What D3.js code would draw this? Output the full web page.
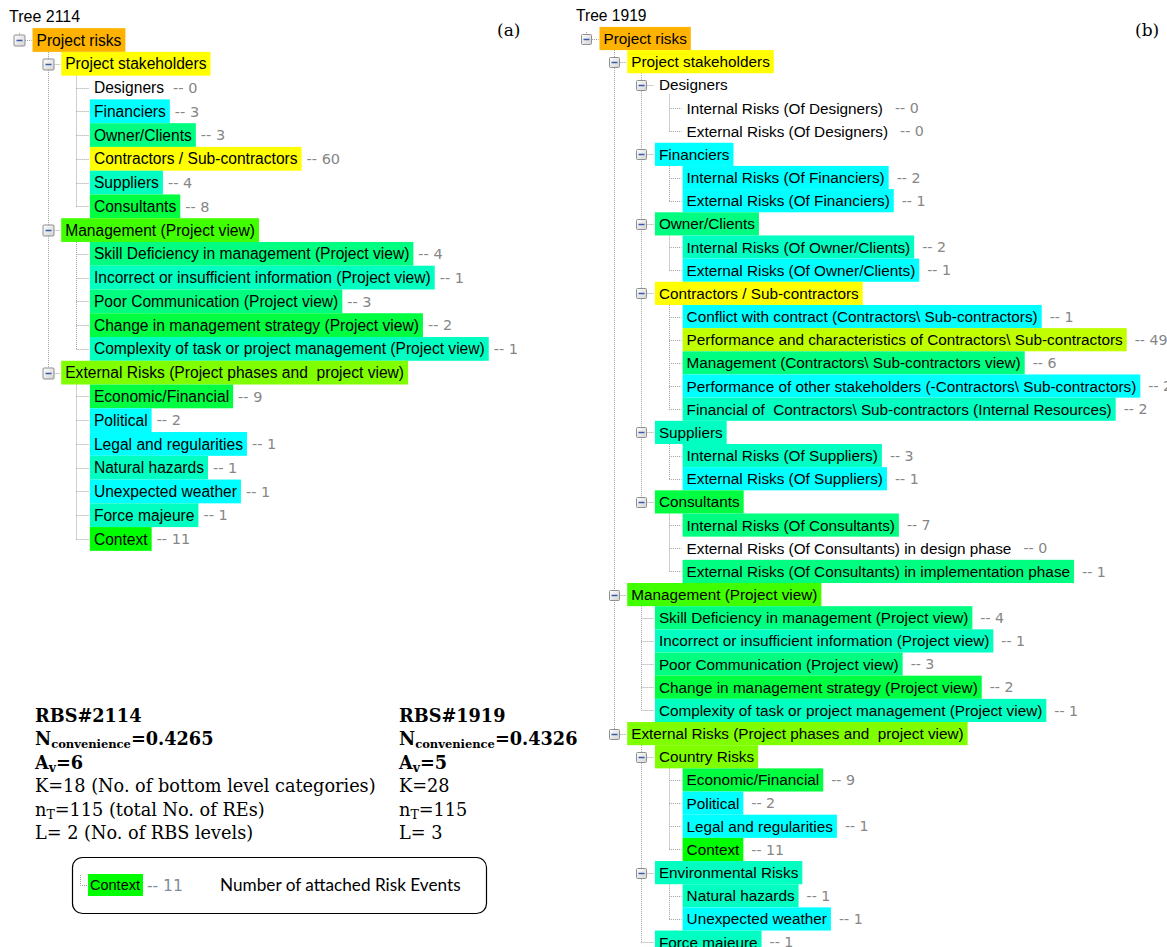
<!DOCTYPE html>
<html><head><meta charset="utf-8">
<script src="https://cdn.jsdelivr.net/npm/d3@7"></script>
<style>
body{margin:0;background:#fff;}
svg{display:block;}
text{white-space:pre;}
</style></head><body>
<svg id="chart" width="1167" height="947"></svg>
<script>
// ---------- Tree (a) : RBS 2114 ----------
const treeA_title = "Tree 2114";
const treeA_names = [
  "Project risks",
  "Project stakeholders",
  "Designers","Financiers","Owner/Clients","Contractors / Sub-contractors","Suppliers","Consultants",
  "Management (Project view)",
  "Skill Deficiency in management (Project view)",
  "Incorrect or insufficient information (Project view)",
  "Poor Communication (Project view)",
  "Change in management strategy (Project view)",
  "Complexity of task or project management (Project view)",
  "External Risks (Project phases and  project view)",
  "Economic/Financial","Political","Legal and regularities","Natural hazards","Unexpected weather","Force majeure","Context"
];
const treeA_parents = [-1,0,1,1,1,1,1,1,0,8,8,8,8,8,0,14,14,14,14,14,14,14];
const treeA_counts  = [null,null,0,3,3,60,4,8,null,4,1,3,2,1,null,9,2,1,1,1,1,11];
const treeA_tones   = ["orange","yellow","none","cyan","spring","yellow","aqua","green",
  "lime","spring","aqua","spring","green","aqua",
  "chartreuse","green","cyan","cyan","aqua","cyan","aqua","pure"];

// ---------- Tree (b) : RBS 1919 ----------
const treeB_title = "Tree 1919";
const treeB_names = [
  "Project risks",
  "Project stakeholders",
  "Designers","Internal Risks (Of Designers)","External Risks (Of Designers)",
  "Financiers","Internal Risks (Of Financiers)","External Risks (Of Financiers)",
  "Owner/Clients","Internal Risks (Of Owner/Clients)","External Risks (Of Owner/Clients)",
  "Contractors / Sub-contractors",
  "Conflict with contract (Contractors\\ Sub-contractors)",
  "Performance and characteristics of Contractors\\ Sub-contractors",
  "Management (Contractors\\ Sub-contractors view)",
  "Performance of other stakeholders (-Contractors\\ Sub-contractors)",
  "Financial of  Contractors\\ Sub-contractors (Internal Resources)",
  "Suppliers","Internal Risks (Of Suppliers)","External Risks (Of Suppliers)",
  "Consultants","Internal Risks (Of Consultants)",
  "External Risks (Of Consultants) in design phase",
  "External Risks (Of Consultants) in implementation phase",
  "Management (Project view)",
  "Skill Deficiency in management (Project view)",
  "Incorrect or insufficient information (Project view)",
  "Poor Communication (Project view)",
  "Change in management strategy (Project view)",
  "Complexity of task or project management (Project view)",
  "External Risks (Project phases and  project view)",
  "Country Risks","Economic/Financial","Political","Legal and regularities","Context",
  "Environmental Risks","Natural hazards","Unexpected weather",
  "Force majeure"
];
const treeB_parents = [-1,0,1,2,2,1,5,5,1,8,8,1,11,11,11,11,11,1,17,17,1,20,20,20,
  0,24,24,24,24,24,0,30,31,31,31,31,30,36,36,30];
const treeB_counts = [null,null,null,0,0,null,2,1,null,2,1,null,1,49,6,2,2,null,3,1,null,7,0,1,
  null,4,1,3,2,1,null,null,9,2,1,11,null,1,1,1];
const treeB_tones = ["orange","yellow","none","none","none","cyan","cyan","cyan","spring","aqua","cyan",
  "yellow","cyan","yellowgreen","spring","cyan","aqua","aqua","aqua","cyan","green","spring","none","spring",
  "lime","spring","aqua","spring","green","aqua",
  "chartreuse","chartreuse","green","cyan","cyan","pure","aqua","aqua","cyan","aqua"];

// ---------- Summary statistics ----------
const statsA = [
  {bold:true,  parts:[["RBS#2114",""]]},
  {bold:true,  parts:[["N",""],["convenience","sub"],["=0.4265",""]]},
  {bold:true,  parts:[["A",""],["v","sub"],["=6",""]]},
  {bold:false, parts:[["K=18 (No. of bottom level categories)",""]]},
  {bold:false, parts:[["n",""],["T","sub"],["=115 (total No. of REs)",""]]},
  {bold:false, parts:[["L= 2 (No. of RBS levels)",""]]}
];
const statsB = [
  {bold:true,  parts:[["RBS#1919",""]]},
  {bold:true,  parts:[["N",""],["convenience","sub"],["=0.4326",""]]},
  {bold:true,  parts:[["A",""],["v","sub"],["=5",""]]},
  {bold:false, parts:[["K=28",""]]},
  {bold:false, parts:[["n",""],["T","sub"],["=115",""]]},
  {bold:false, parts:[["L= 3",""]]}
];
const legendSample = {name:"Context", count:11, tone:"pure"};
const legendText = "Number of attached Risk Events";
const panelLabels = ["(a)","(b)"];

// ---------- styles ----------
const toneColor = d3.scaleOrdinal()
  .domain(["orange","yellow","cyan","spring","aqua","green","lime","chartreuse","yellowgreen","pure","none"])
  .range(["#FFB300","#FFFF00","#00FFFF","#00FF80","#00FFC0","#00FF40","#40FF00","#80FF00","#C0FF00","#00FF00","none"]);

const svg = d3.select("#chart");
const TREE_FONT = "'Liberation Sans', Arial, sans-serif";
const COUNT_FONT = "'DejaVu Sans', sans-serif";
const LINE_COL = "#a0a0a0";

function drawTree(cfg, title, names, parents, counts, tones){
  const rows = names.map((n,i)=>({id:String(i), parentId: parents[i] < 0 ? null : String(parents[i]),
    name:n, count:counts[i], tone:tones[i]}));
  const root = d3.stratify()(rows);
  const order = [];
  root.eachBefore(d => order.push(d));
  order.forEach((d,i)=> d.row = i);
  const y = d3.scaleLinear().domain([0,1]).range([cfg.y0, cfg.y0 + cfg.row]);
  const xb = d3.scaleLinear().domain([0,1]).range([cfg.x0, cfg.x0 + cfg.indent]);
  const xt = d => xb(d.depth) + cfg.textOff;
  const g = svg.append("g");

  g.append("text").attr("x", cfg.titleX).attr("y", cfg.titleY)
    .attr("font-family", TREE_FONT).attr("font-size", cfg.titleSize).attr("fill","#000").text(title);

  const lines = g.append("g").attr("stroke", LINE_COL).attr("stroke-dasharray","1,1").attr("fill","none");
  lines.append("line").attr("x1", Math.round(xb(0))+0.5).attr("x2", Math.round(xb(0))+0.5)
    .attr("y1", y(0) - cfg.row/2 + 5).attr("y2", y(0));
  order.forEach(d => {
    const yy = Math.round(y(d.row)) + 0.5;
    lines.append("line").attr("x1", xb(d.depth)).attr("x2", xt(d) - 5)
      .attr("y1", yy).attr("y2", yy);
    if (d.children){
      const last = d.children[d.children.length-1];
      const cx = Math.round(xb(d.depth+1)) + 0.5;
      lines.append("line").attr("x1", cx).attr("x2", cx)
        .attr("y1", y(d.row) + cfg.row/2 - 2).attr("y2", Math.round(y(last.row))+0.5);
    }
  });

  const nodes = g.selectAll("g.node").data(order).join("g").attr("class","node");
  nodes.each(function(d){
    const ng = d3.select(this);
    const rect = ng.append("rect");
    const t = ng.append("text").attr("x", xt(d)).attr("y", y(d.row)).attr("dy","0.36em")
      .attr("font-family", TREE_FONT).attr("font-size", cfg.fontSize).attr("fill","#000").text(d.data.name);
    const w = t.node().getComputedTextLength();
    const fill = toneColor(d.data.tone);
    rect.attr("x", xt(d) - 4).attr("y", y(d.row) - cfg.row/2).attr("width", w + 8).attr("height", cfg.row)
      .attr("fill", fill === "none" ? "none" : fill);
    if (d.data.count !== null){
      ng.append("text").attr("x", xt(d) + w + 4 + cfg.countGap).attr("y", y(d.row)).attr("dy","0.36em")
        .attr("font-family", COUNT_FONT).attr("font-size", cfg.countSize).attr("fill","#868686")
        .text("-- " + d.data.count);
    }
    if (d.children){
      const bx = Math.round(xb(d.depth)) + 0.5, by = Math.round(y(d.row)) + 0.5, s = cfg.box/2;
      ng.append("rect").attr("x", bx - s).attr("y", by - s).attr("width", cfg.box).attr("height", cfg.box)
        .attr("rx",1).attr("fill","url(#boxgrad)").attr("stroke","#8e8f8f");
      ng.append("line").attr("x1", bx - 3).attr("x2", bx + 3).attr("y1", by).attr("y2", by)
        .attr("stroke","#3a5aa8").attr("stroke-width",1.5);
    }
  });
}

const defs = svg.append("defs");
const grad = defs.append("linearGradient").attr("id","boxgrad").attr("x1",0).attr("y1",0).attr("x2",1).attr("y2",1);
grad.append("stop").attr("offset","0%").attr("stop-color","#ffffff");
grad.append("stop").attr("offset","100%").attr("stop-color","#d2d2d2");

drawTree({x0:19, indent:28.7, textOff:17.5, y0:40, row:23.76, fontSize:15.6, countSize:14.5, countGap:5,
  box:11, titleX:9, titleY:21.5, titleSize:16}, treeA_title, treeA_names, treeA_parents, treeA_counts, treeA_tones);
drawTree({x0:586, indent:27.7, textOff:17.5, y0:38.5, row:23.17, fontSize:15.3, countSize:14.2, countGap:8,
  box:10, titleX:576, titleY:21, titleSize:15.6}, treeB_title, treeB_names, treeB_parents, treeB_counts, treeB_tones);

// panel labels
svg.selectAll("text.panel").data(panelLabels).join("text").attr("class","panel")
  .attr("x", (d,i)=> i===0 ? 497 : 1135).attr("y", 36)
  .attr("font-family","'DejaVu Serif', serif").attr("font-size",17).attr("fill","#000").text(d=>d);

// stats
function drawStats(lines, x){
  const yScale = d3.scaleLinear().domain([0,1]).range([722, 745.4]);
  lines.forEach((ln,i)=>{
    const t = svg.append("text").attr("x", x).attr("y", yScale(i))
      .attr("font-family","'DejaVu Serif', serif").attr("font-size",17.7)
      .attr("font-weight", ln.bold ? "bold" : "normal").attr("fill","#000");
    ln.parts.forEach(([s,kind])=>{
      if (kind === "sub"){
        t.append("tspan").attr("font-size", s.length > 1 ? 11.5 : 12.5).attr("dy", 3).text(s);
      } else {
        const ts = t.append("tspan").text(s);
        if (t.selectAll("tspan").size() > 1) ts.attr("dy", -3);
      }
    });
  });
}
drawStats(statsA, 35);
drawStats(statsB, 399);

// legend
const lg = svg.append("g");
lg.append("rect").attr("x",72.5).attr("y",857.5).attr("width",414).attr("height",56).attr("rx",10)
  .attr("fill","none").attr("stroke","#000").attr("stroke-width",1.2);
const ly = 885;
lg.append("path").attr("d", `M80.5,${ly-10} V${ly+0.5} H88`).attr("stroke",LINE_COL).attr("stroke-dasharray","1,1").attr("fill","none");
const lt = lg.append("text").attr("x", 90).attr("y", ly).attr("dy","0.36em")
  .attr("font-family",TREE_FONT).attr("font-size",14.5).attr("fill","#000").text(legendSample.name);
const lw = lt.node().getComputedTextLength();
lg.insert("rect","text").attr("x",88).attr("y",ly-11).attr("width",lw+5).attr("height",22).attr("fill",toneColor(legendSample.tone));
lg.append("text").attr("x", 88+lw+9).attr("y", ly).attr("dy","0.36em")
  .attr("font-family",COUNT_FONT).attr("font-size",15.5).attr("fill","#7f8c9c").text("-- " + legendSample.count);
lg.append("text").attr("x", 220).attr("y", ly).attr("dy","0.36em")
  .attr("font-family","Lato, sans-serif").attr("font-size",17.2).attr("fill","#000").text(legendText);
</script>
</body></html>
